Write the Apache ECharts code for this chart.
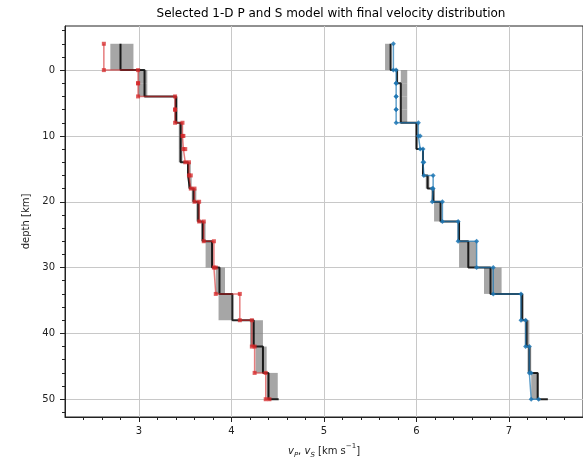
<!DOCTYPE html>
<html><head><meta charset="utf-8">
<script src="https://cdn.jsdelivr.net/npm/echarts@6/dist/echarts.min.js"></script>
<style>html,body{margin:0;padding:0;background:#fff}#c{width:583px;height:464px}</style>
</head><body><div id="c"></div>
<script>
// layer-top depths [km]; last entry is the half-space top
const depths = [-4, 0, 2, 4, 6, 8, 10, 12, 14, 16, 18, 20, 23, 26, 30, 34, 38, 42, 46, 50];
// selected 1-D P model (red)
const vpSelected = [2.62, 2.99, 2.99, 3.39, 3.39, 3.47, 3.48, 3.50, 3.54, 3.56, 3.60, 3.65, 3.70, 3.81, 3.83, 4.09, 4.22, 4.25, 4.37, 4.41];
// final P model (black)
const vpFinal = [2.80, 3.06, 3.06, 3.40, 3.40, 3.45, 3.45, 3.45, 3.53, 3.55, 3.59, 3.64, 3.69, 3.79, 3.87, 4.01, 4.24, 4.34, 4.40, 4.51];
// final P distribution range per layer (grey)
const vpLow  = [2.69, 2.99, 2.99, 3.38, 3.38, 3.43, 3.43, 3.43, 3.52, 3.53, 3.57, 3.62, 3.67, 3.72, 3.83, 3.86, 4.20, 4.26, 4.38];
const vpHigh = [2.94, 3.09, 3.09, 3.42, 3.42, 3.47, 3.47, 3.47, 3.56, 3.57, 3.62, 3.66, 3.72, 3.80, 3.93, 4.01, 4.34, 4.38, 4.50];
// selected 1-D S model (blue)
const vsSelected = [5.75, 5.78, 5.78, 5.78, 5.78, 6.02, 6.04, 6.07, 6.08, 6.18, 6.17, 6.28, 6.45, 6.65, 6.83, 7.13, 7.18, 7.22, 7.24, 7.32];
// final S model (black)
const vsFinal = [5.72, 5.79, 5.83, 5.83, 5.83, 6.00, 6.00, 6.07, 6.07, 6.12, 6.18, 6.26, 6.46, 6.56, 6.80, 7.14, 7.19, 7.22, 7.31, 7.42];
// final S distribution range per layer (grey)
const vsLow  = [5.66, 5.83, 5.83, 5.83, 5.83, 5.99, 5.99, 6.06, 6.06, 6.10, 6.16, 6.19, 6.44, 6.46, 6.73, 7.12, 7.17, 7.20, 7.24];
const vsHigh = [5.72, 5.90, 5.90, 5.90, 5.90, 6.01, 6.01, 6.08, 6.08, 6.14, 6.20, 6.27, 6.47, 6.65, 6.92, 7.16, 7.22, 7.24, 7.32];

const xTickValues = [3, 4, 5, 6, 7];
const yTickValues = [0, 10, 20, 30, 40, 50];

const xMinor = [];
for (let k = 12; k <= 38; k++) { if (k % 5 !== 0) xMinor.push(+(k * 0.2).toFixed(1)); }
const yMinor = [];
for (let k = -3; k <= 26; k++) { if (k % 5 !== 0) yMinor.push(k * 2); }

function steps(z, v) {
  const pts = [];
  for (let i = 0; i < z.length - 1; i++) { pts.push([v[i], z[i]]); pts.push([v[i], z[i + 1]]); }
  pts.push([v[v.length - 1], z[z.length - 1]]);
  return pts;
}
function bands(z, lo, hi) {
  return lo.map((l, i) => [l, hi[i], z[i], z[i + 1]]);
}
function renderBand(params, api) {
  const p1 = api.coord([api.value(0), api.value(2)]);
  const p2 = api.coord([api.value(1), api.value(3)]);
  return { type: 'rect',
    shape: { x: Math.min(p1[0], p2[0]), y: Math.min(p1[1], p2[1]), width: Math.abs(p2[0] - p1[0]), height: Math.abs(p2[1] - p1[1]) },
    style: { fill: 'rgba(128,128,128,0.7)' } };
}

const FONT = 'DejaVu Sans';
const AX = '#222';
const chart = echarts.init(document.getElementById('c'), null, { renderer: 'canvas' });
chart.setOption({
  animation: false,
  backgroundColor: '#fff',
  textStyle: { fontFamily: FONT },
  title: {
    text: 'Selected 1-D P and S model with final velocity distribution',
    left: 326, top: 3, textAlign: 'center',
    textStyle: { fontSize: 12, fontWeight: 'normal', color: '#000', fontFamily: FONT }
  },
  grid: { left: 65, top: 26, width: 522, height: 394.7, show: true, borderColor: AX, borderWidth: 1, backgroundColor: 'transparent' },
  xAxis: [{
    type: 'value', min: 2.2, max: 7.8, position: 'bottom',
    axisLine: { show: true, onZero: false, lineStyle: { color: AX } },
    axisTick: { show: true, customValues: xTickValues, length: 5, lineStyle: { color: AX } },
    axisLabel: { customValues: xTickValues, fontSize: 10, color: AX, margin: 9, fontFamily: FONT },
    splitLine: { show: true, lineStyle: { color: '#c8c8c8', width: 1 } },
    name: '{i|v}{s|P}{n|, }{i|v}{s|S}{n| [km s}{p|−1}{n|]}',
    nameLocation: 'middle', nameGap: 26,
    nameTextStyle: { fontSize: 10, color: AX, fontFamily: FONT,
      rich: {
        i: { fontSize: 10, fontStyle: 'italic', lineHeight: 16, fontFamily: FONT, color: AX },
        n: { fontSize: 10, lineHeight: 16, fontFamily: FONT, color: AX },
        s: { fontSize: 7, fontStyle: 'italic', lineHeight: 8, verticalAlign: 'bottom', fontFamily: FONT, color: AX },
        p: { fontSize: 7, lineHeight: 8, verticalAlign: 'top', fontFamily: FONT, color: AX }
      } }
  }, {
    type: 'value', min: 2.2, max: 7.8, position: 'bottom',
    axisLine: { show: false, onZero: false },
    axisTick: { show: true, customValues: xMinor, length: 3, lineStyle: { color: AX } },
    axisLabel: { show: false, customValues: xMinor },
    splitLine: { show: false }
  }],
  yAxis: [{
    type: 'value', min: -6.7, max: 52.7, inverse: true, position: 'left',
    axisLine: { show: true, onZero: false, lineStyle: { color: AX } },
    axisTick: { show: true, customValues: yTickValues, length: 5, lineStyle: { color: AX } },
    axisLabel: { customValues: yTickValues, fontSize: 10, color: AX, margin: 10, fontFamily: FONT },
    splitLine: { show: true, lineStyle: { color: '#c8c8c8', width: 1 } },
    name: 'depth [km]', nameLocation: 'middle', nameGap: 33, nameRotate: 90,
    nameTextStyle: { fontSize: 10, color: AX, fontFamily: FONT }
  }, {
    type: 'value', min: -6.7, max: 52.7, inverse: true, position: 'left',
    axisLine: { show: false, onZero: false },
    axisTick: { show: true, customValues: yMinor, length: 3, lineStyle: { color: AX } },
    axisLabel: { show: false, customValues: yMinor },
    splitLine: { show: false }
  }],
  series: [
    { type: 'custom', renderItem: renderBand, data: bands(depths, vpLow, vpHigh), encode: { x: [0, 1], y: [2, 3] }, z: 1 },
    { type: 'custom', renderItem: renderBand, data: bands(depths, vsLow, vsHigh), encode: { x: [0, 1], y: [2, 3] }, z: 1 },
    { type: 'line', data: steps(depths, vpFinal), showSymbol: false, lineStyle: { color: '#000', width: 2, opacity: 0.85 }, z: 2 },
    { type: 'line', data: steps(depths, vsFinal), showSymbol: false, lineStyle: { color: '#000', width: 2, opacity: 0.85 }, z: 2 },
    { type: 'line', data: steps(depths, vpSelected), symbol: 'rect', symbolSize: 4, showAllSymbol: true,
      lineStyle: { color: '#d62728', width: 1.5, opacity: 0.6 }, itemStyle: { color: '#d62728', opacity: 0.75 }, z: 3 },
    { type: 'line', data: steps(depths, vsSelected), symbol: 'diamond', symbolSize: 5, showAllSymbol: true,
      lineStyle: { color: '#1f77b4', width: 1.5, opacity: 0.7 }, itemStyle: { color: '#1f77b4', opacity: 0.85 }, z: 3 }
  ]
});
</script></body></html>
